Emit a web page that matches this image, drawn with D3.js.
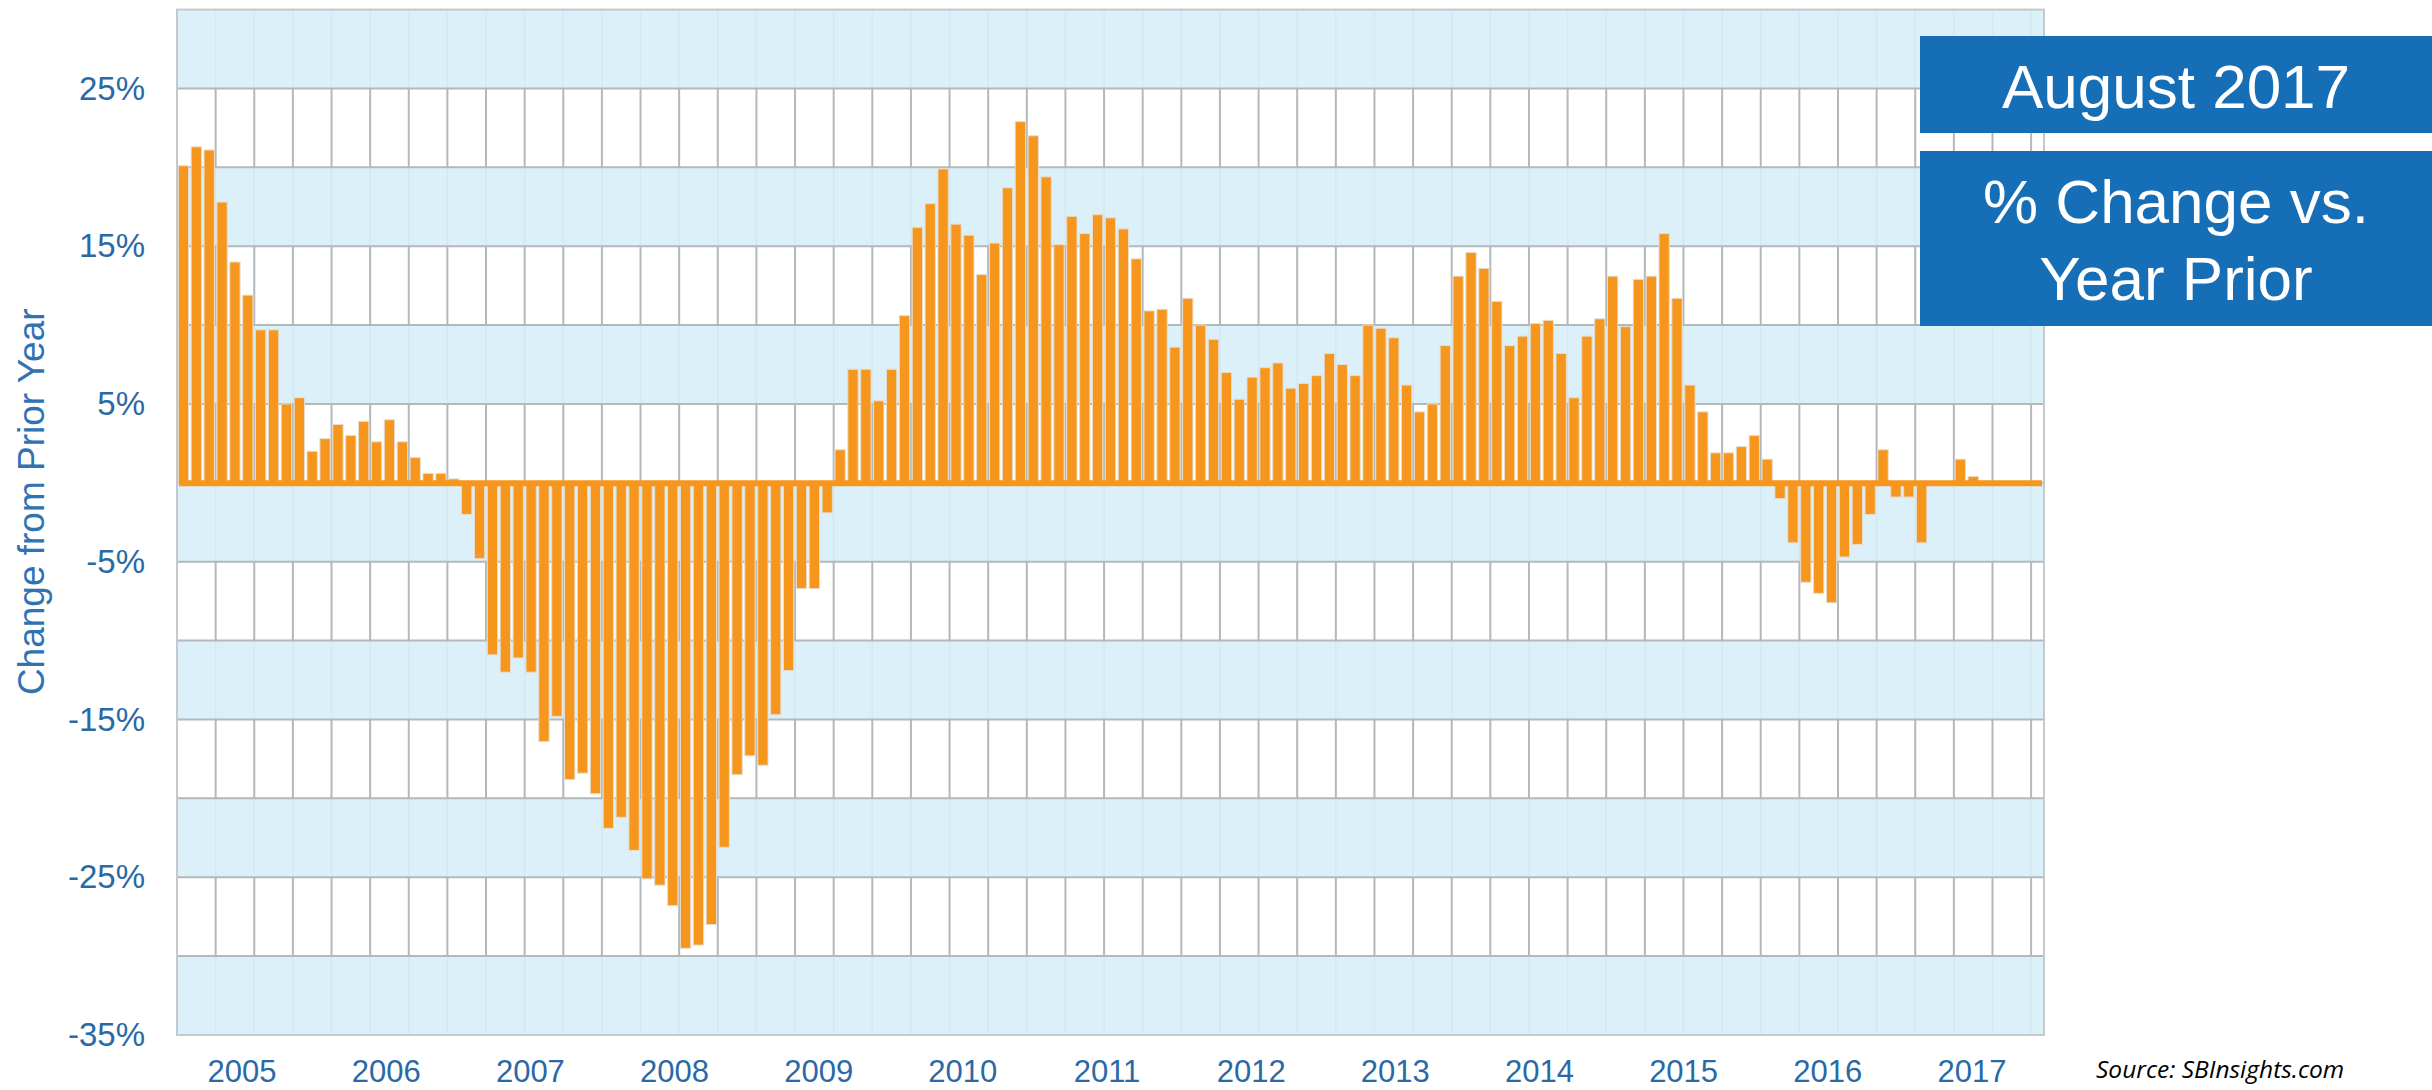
<!DOCTYPE html>
<html>
<head>
<meta charset="utf-8">
<script src="https://cdn.jsdelivr.net/npm/d3@7"></script>
<style>
  body { margin: 0; background: #fff; }
  svg { display: block; }
</style>
</head>
<body>
<div id="chart"></div>
<script>
// monthly % change vs prior year, Sep 2005 .. Aug 2017
var months = d3.timeMonths(new Date(2005, 8, 1), new Date(2017, 8, 2));
var changeValues = [
  20.1, 21.3, 21.1, 17.8, 14.0, 11.9, 9.7, 9.7, 5.0, 5.4, 2.0, 2.8,
  3.7, 3.0, 3.9, 2.6, 4.0, 2.6, 1.6, 0.6, 0.6, 0.25, -2.0, -4.8,
  -10.9, -12.0, -11.1, -12.0, -16.4, -14.8, -18.8, -18.4, -19.7, -21.9, -21.2, -23.3,
  -25.1, -25.5, -26.8, -29.5, -29.3, -28.0, -23.1, -18.5, -17.3, -17.9, -14.7, -11.9,
  -6.7, -6.7, -1.9, 2.1, 7.2, 7.2, 5.2, 7.2, 10.6, 16.2, 17.7, 19.9,
  16.4, 15.7, 13.2, 15.2, 18.7, 22.9, 22.0, 19.4, 15.1, 16.9, 15.8, 17.0,
  16.8, 16.1, 14.2, 10.9, 11.0, 8.6, 11.7, 10.0, 9.1, 7.0, 5.3, 6.7,
  7.3, 7.6, 6.0, 6.3, 6.8, 8.2, 7.5, 6.8, 10.0, 9.8, 9.2, 6.2,
  4.5, 5.0, 8.7, 13.1, 14.6, 13.6, 11.5, 8.7, 9.3, 10.1, 10.3, 8.2,
  5.4, 9.3, 10.4, 13.1, 9.9, 12.9, 13.1, 15.8, 11.7, 6.2, 4.5, 1.9,
  1.9, 2.3, 3.0, 1.5, -1.0, -3.8, -6.3, -7.0, -7.6, -4.7, -3.9, -2.0,
  2.1, -0.9, -0.9, -3.8, 0, 0, 1.5, 0.4, 0.1, 0, 0, 0
];
var yearLabels = ["2005","2006","2007","2008","2009","2010","2011","2012","2013","2014","2015","2016","2017"];
var yTickValues = [25, 15, 5, -5, -15, -25, -35];
var bandLines = [25, 20, 15, 10, 5, 0, -5, -10, -15, -20, -25, -30];

var data = months.map(function (m, i) { return {month: m, value: changeValues[i]}; });

var W = 2432, H = 1090;
var plot = {left: 177, right: 2044, top: 9.6, bottom: 1035};

var svg = d3.select("#chart").append("svg")
    .attr("width", W)
    .attr("height", H)
    .style("font-family", "'Liberation Sans', Arial, sans-serif");

var x = d3.scaleBand()
    .domain(data.map(function (d) { return d.month; }))
    .range([plot.left, plot.right])
    .paddingInner(0.2)
    .paddingOuter(0.1);

var y = d3.scaleLinear()
    .domain([-35, 30])
    .range([plot.bottom, plot.top]);

var step = x.step();
var gridX = d3.range(3, data.length, 3).map(function (i) { return plot.left + i * step; });

// plot background
svg.append("rect")
    .attr("x", plot.left).attr("y", plot.top)
    .attr("width", plot.right - plot.left).attr("height", plot.bottom - plot.top)
    .style("fill", "#dcf0fa");

// faint vertical lines in blue bands
svg.append("g").selectAll("line")
    .data(gridX).enter().append("line")
    .attr("x1", function (d) { return d; }).attr("x2", function (d) { return d; })
    .attr("y1", plot.top).attr("y2", plot.bottom)
    .style("stroke", "#d2e8f3").style("stroke-width", 1.5);

// white bands with grey cells
var whiteTops = yTickValues.filter(function (v) { return v > -35; });
var bands = svg.append("g").selectAll(".band")
    .data(whiteTops).enter().append("g").attr("class", "band");
bands.append("rect")
    .attr("x", plot.left)
    .attr("y", function (d) { return y(d); })
    .attr("width", plot.right - plot.left)
    .attr("height", function (d) { return y(d - 5) - y(d); })
    .style("fill", "#fff");
bands.selectAll("line")
    .data(function (d) { return gridX.map(function (gx) { return {x: gx, top: d}; }); })
    .enter().append("line")
    .attr("x1", function (d) { return d.x; }).attr("x2", function (d) { return d.x; })
    .attr("y1", function (d) { return y(d.top); })
    .attr("y2", function (d) { return y(d.top - 5); })
    .style("stroke", "#b3b8ba").style("stroke-width", 2);

svg.append("g").selectAll("line")
    .data(bandLines).enter().append("line")
    .attr("x1", plot.left).attr("x2", plot.right)
    .attr("y1", function (d) { return y(d); }).attr("y2", function (d) { return y(d); })
    .style("stroke", "#b3b8ba").style("stroke-width", 2);

// bars
svg.append("g").selectAll("rect")
    .data(data).enter().append("rect")
    .attr("x", function (d) { return x(d.month); })
    .attr("width", x.bandwidth())
    .attr("y", function (d) { return y(Math.max(0, d.value)); })
    .attr("height", function (d) { return Math.abs(y(d.value) - y(0)); })
    .style("fill", "#f7961c")
    .style("stroke", "#e6dccd")
    .style("stroke-width", 1);

// zero line
svg.append("line")
    .attr("x1", plot.left + 2).attr("x2", plot.right - 2)
    .attr("y1", y(0) + 0.5).attr("y2", y(0) + 0.5)
    .style("stroke", "#f7961c").style("stroke-width", 6);

// border
svg.append("rect")
    .attr("x", plot.left).attr("y", plot.top)
    .attr("width", plot.right - plot.left).attr("height", plot.bottom - plot.top)
    .style("fill", "none").style("stroke", "#c4c9cb").style("stroke-width", 2);

// y axis
var yAxis = svg.append("g")
    .attr("transform", "translate(" + plot.left + ",0)")
    .call(d3.axisLeft(y).tickValues(yTickValues).tickSize(0).tickPadding(32)
        .tickFormat(function (d) { return d + "%"; }));
yAxis.select(".domain").remove();
yAxis.selectAll("text")
    .style("font-family", "'Liberation Sans', Arial, sans-serif")
    .style("font-size", "33px")
    .style("fill", "#2a69a6");

svg.append("text")
    .attr("transform", "translate(44," + y(-1.2) + ") rotate(-90)")
    .attr("text-anchor", "middle")
    .style("font-size", "37px")
    .style("fill", "#2f73b2")
    .text("Change from Prior Year");

// year labels
var yearScale = d3.scaleBand().domain(yearLabels).range([plot.left - 7, plot.right]);
var xAxis = svg.append("g")
    .attr("transform", "translate(0," + plot.bottom + ")")
    .call(d3.axisBottom(yearScale).tickSize(0).tickPadding(25));
xAxis.select(".domain").remove();
xAxis.selectAll("text")
    .style("font-family", "'Liberation Sans', Arial, sans-serif")
    .style("font-size", "31px")
    .style("fill", "#2a69a6");

// title boxes
var boxX = 1920, boxW = W - 1920;
svg.append("rect").attr("x", boxX).attr("y", 36).attr("width", boxW).attr("height", 97)
    .style("fill", "#166fb6");
svg.append("rect").attr("x", boxX).attr("y", 151).attr("width", boxW).attr("height", 175)
    .style("fill", "#166fb6");
var titleLines = [
    {text: "August 2017", y: 108},
    {text: "% Change vs.", y: 223},
    {text: "Year Prior", y: 300}
];
svg.selectAll(".title").data(titleLines).enter().append("text")
    .attr("class", "title")
    .attr("x", boxX + boxW / 2)
    .attr("y", function (d) { return d.y; })
    .attr("text-anchor", "middle")
    .style("font-size", "62px")
    .style("fill", "#fff")
    .text(function (d) { return d.text; });

svg.append("text")
    .attr("x", 2096).attr("y", 1078)
    .style("font-family", "'Open Sans', 'Noto Sans', sans-serif")
    .style("font-style", "italic")
    .style("font-size", "24.5px")
    .style("fill", "#000")
    .text("Source: SBInsights.com");
</script>
</body>
</html>
